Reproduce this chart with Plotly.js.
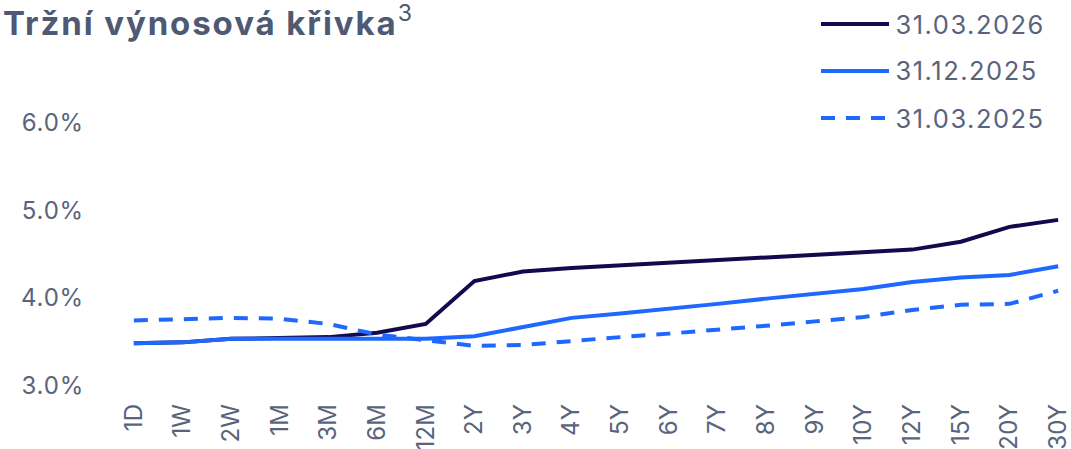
<!DOCTYPE html>
<html>
<head>
<meta charset="utf-8">
<script src="https://cdn.plot.ly/plotly-3.0.1.min.js"></script>
<style>
html,body{margin:0;padding:0;background:#fff;}
#chart{width:1071px;height:449px;}
#chart .gtitle{letter-spacing:1.9px;}
#chart .ytick text{letter-spacing:0.8px;}
#chart .xtick text{letter-spacing:0.2px;}
#chart .annotation-text{letter-spacing:1.5px;}
</style>
</head>
<body>
<div id="chart"></div>
<script>
const tenors = ["1D","1W","2W","1M","3M","6M","12M","2Y","3Y","4Y","5Y","6Y","7Y","8Y","9Y","10Y","12Y","15Y","20Y","30Y"];
const curve_2026_03_31 = [3.48,3.49,3.53,3.54,3.55,3.60,3.70,4.19,4.30,4.34,4.37,4.40,4.43,4.45,4.49,4.52,4.55,4.64,4.81,4.89];
const curve_2025_12_31 = [3.48,3.49,3.53,3.53,3.52,3.53,3.53,3.56,3.67,3.77,3.82,3.87,3.93,3.99,4.04,4.10,4.18,4.23,4.26,4.36];
const curve_2025_03_31 = [3.74,3.75,3.77,3.76,3.70,3.58,3.52,3.45,3.46,3.51,3.55,3.59,3.63,3.68,3.73,3.78,3.86,3.92,3.93,4.08];
const seriesNames = ["31.03.2026","31.12.2025","31.03.2025"];
const yTicks = [3,4,5,6];
const yTickLabels = ["3.0%","4.0%","5.0%","6.0%"];

const W = 1071, H = 449;
const M = {l:129, r:8, t:121, b:62};
const textColor = "#59647c";
const darkColor = "#130a4d";
const blueColor = "#1f68ff";
const font = "Inter, 'Open Sans', sans-serif";

function px2paperX(px){ return (px - M.l) / (W - M.l - M.r); }
function px2paperY(py){ return (H - M.b - py) / (H - M.t - M.b); }

const styles = [
  {color: darkColor, dash: "solid"},
  {color: blueColor, dash: "solid"},
  {color: blueColor, dash: "14px,11px"}
];
const allSeries = [curve_2026_03_31, curve_2025_12_31, curve_2025_03_31];

const traces = allSeries.map((vals, i) => ({
  type: "scatter",
  mode: "lines",
  x: tenors,
  y: vals,
  name: seriesNames[i],
  line: {color: styles[i].color, width: 4, dash: styles[i].dash},
  showlegend: false,
  hoverinfo: "x+y+name"
}));

// custom legend (long line samples)
const legendY = [24, 71, 118];
const shapes = [], annotations = [];
seriesNames.forEach((nm, i) => {
  shapes.push({
    type: "line", xref: "paper", yref: "paper",
    x0: px2paperX(821), x1: px2paperX(889),
    y0: px2paperY(legendY[i]), y1: px2paperY(legendY[i]),
    line: {color: styles[i].color, width: 4, dash: styles[i].dash}
  });
  annotations.push({
    xref: "paper", yref: "paper",
    x: px2paperX(901), y: px2paperY(legendY[i]),
    xanchor: "left", yanchor: "middle",
    text: nm, showarrow: false,
    font: {family: font, size: 25.5, color: textColor}
  });
});

const layout = {
  width: W, height: H,
  margin: M,
  paper_bgcolor: "#ffffff",
  plot_bgcolor: "#ffffff",
  showlegend: false,
  title: {
    text: "<b>Tržní výnosová křivka</b><sup>3</sup>",
    x: 3/W, xref: "container", xanchor: "left",
    y: 1 - 23/H, yref: "container", yanchor: "middle",
    font: {family: font, size: 33, color: "#4e5a73"}
  },
  xaxis: {
    type: "category",
    range: [-0.1, 19.1],
    tickangle: -90,
    showgrid: false, zeroline: false, showline: false,
    ticks: "",
    ticklabelstandoff: 11,
    tickfont: {family: font, size: 24, color: textColor},
    fixedrange: true
  },
  yaxis: {
    range: [2.98, 6.02],
    tickvals: yTicks,
    ticktext: yTickLabels,
    showgrid: false, zeroline: false, showline: false,
    ticks: "",
    ticklabelstandoff: 44,
    tickfont: {family: font, size: 24, color: textColor},
    fixedrange: true
  },
  shapes: shapes,
  annotations: annotations
};

Plotly.newPlot("chart", traces, layout, {displayModeBar: false, staticPlot: true});
</script>
</body>
</html>
